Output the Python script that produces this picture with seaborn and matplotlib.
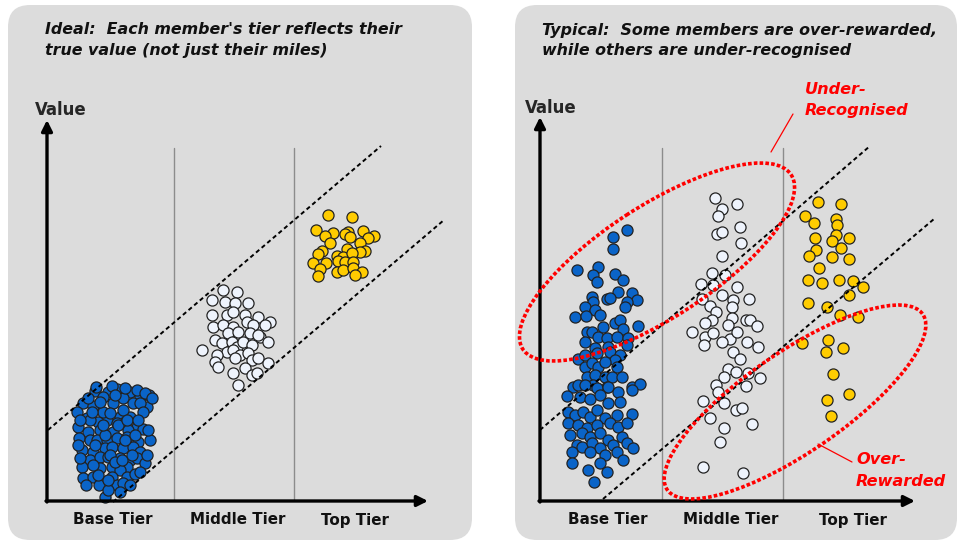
import matplotlib
matplotlib.use("Agg")
import matplotlib.pyplot as plt
from matplotlib.patches import FancyBboxPatch, Ellipse
import seaborn as sns
import pandas as pd

sns.set_theme(style="white")
plt.rcParams["font.family"] = ["DejaVu Sans"]

# ---------------------------------------------------------------
# Member positions (canvas units: x = tier spread, y = value, top-down)
# ---------------------------------------------------------------
# Ideal panel
ideal_base = [
    (95, 391), (108, 392), (117, 389), (130, 392), (140, 397), (149, 395), (147, 407),
    (83, 403), (77, 412), (103, 397), (123, 398), (113, 403), (93, 406), (133, 403),
    (87, 418), (107, 420), (120, 417), (130, 417), (98, 422), (78, 427), (88, 432),
    (100, 430), (113, 432), (123, 423), (137, 427), (143, 429), (128, 430), (79, 438),
    (90, 440), (97, 440), (107, 440), (117, 438), (127, 437), (138, 442), (82, 450),
    (93, 452), (105, 448), (112, 447), (123, 448), (133, 447), (140, 452), (90, 460),
    (100, 457), (108, 457), (120, 458), (130, 460), (137, 458), (145, 463), (82, 467),
    (100, 468), (112, 467), (127, 467), (120, 470), (83, 478), (93, 477), (112, 477),
    (127, 477), (135, 474), (99, 485), (117, 485), (123, 483), (105, 497),
    (90, 420), (117, 423), (103, 412), (123, 410), (140, 403), (110, 413),
    (96, 387), (112, 386), (125, 388), (137, 390), (145, 393), (152, 398), (88, 398),
    (80, 420), (78, 445), (80, 458), (86, 485), (108, 490), (120, 492),
    (130, 485), (140, 472), (147, 455), (150, 440), (118, 425), (105, 435),
    (125, 440), (95, 445), (110, 455), (115, 462), (98, 475), (108, 480), (122, 460),
    (135, 435), (132, 455), (103, 425), (93, 465), (127, 420), (115, 395), (92, 412),
    (143, 412), (138, 420), (100, 402), (148, 430),
]
ideal_middle = [
    (223, 290), (237, 292), (212, 300), (225, 302), (235, 303), (248, 303), (212, 315),
    (227, 315), (233, 312), (245, 315), (258, 317), (270, 322), (213, 327), (223, 325),
    (233, 327), (247, 322), (253, 325), (265, 325), (228, 333), (238, 332), (250, 333),
    (260, 337), (215, 340), (222, 343), (232, 342), (237, 347), (243, 342), (252, 345),
    (268, 342), (202, 350), (227, 352), (233, 350), (240, 355), (248, 353), (217, 355),
    (215, 362), (218, 367), (235, 358), (252, 360), (258, 358), (268, 363), (245, 368),
    (233, 373), (252, 375), (257, 373), (238, 385), (258, 335),
]
ideal_top = [
    (328, 215), (352, 217), (316, 230), (333, 233), (325, 236), (348, 232), (345, 234),
    (363, 231), (374, 236), (368, 238), (350, 237), (330, 243), (360, 243), (347, 249),
    (322, 251), (318, 254), (365, 251), (360, 252), (337, 256), (343, 257), (352, 253),
    (313, 263), (326, 263), (338, 261), (345, 262), (353, 262), (320, 269), (337, 272),
    (343, 270), (353, 268), (362, 272), (318, 276), (355, 275),
]

# Typical panel
typical_base = [
    (627, 230), (613, 237), (613, 249), (577, 270), (598, 267), (593, 275), (597, 282),
    (615, 274), (623, 280), (618, 292), (632, 293), (637, 300), (627, 302), (625, 307),
    (592, 297), (593, 302), (607, 299), (610, 298), (585, 307), (595, 310), (600, 315),
    (575, 317), (586, 316), (615, 323), (620, 320), (638, 326), (603, 327), (623, 329),
    (587, 332), (585, 342), (592, 332), (598, 337), (607, 338), (617, 337), (628, 338),
    (627, 345), (608, 347), (595, 348), (578, 359), (585, 355), (597, 353), (610, 352),
    (620, 355), (615, 360), (585, 367), (592, 363), (598, 367), (605, 362), (617, 367),
    (587, 377), (595, 375), (605, 377), (612, 377), (622, 377), (573, 387), (578, 385),
    (593, 385), (607, 387), (632, 387), (640, 384),
    (585, 385), (597, 388), (608, 387), (618, 392), (632, 390), (567, 396), (580, 397),
    (590, 399), (600, 395), (608, 403), (620, 402), (568, 412), (575, 415), (583, 412),
    (590, 417), (597, 410), (605, 418), (617, 415), (632, 414), (568, 423), (578, 425),
    (587, 428), (597, 425), (610, 423), (618, 427), (627, 423), (570, 435), (582, 433),
    (590, 437), (600, 433), (608, 440), (622, 437), (577, 445), (582, 447), (592, 443),
    (600, 448), (613, 445), (627, 443), (633, 448), (572, 452), (590, 452), (605, 455),
    (617, 452), (623, 460), (572, 463), (600, 463), (588, 470), (607, 472), (594, 482),
]
typical_middle = [
    (715, 198), (737, 204), (722, 209), (718, 216), (740, 227), (717, 234), (722, 232),
    (741, 243), (722, 256), (712, 273), (725, 275), (701, 284), (713, 285), (737, 287),
    (722, 295), (702, 299), (733, 300), (749, 299), (710, 306), (732, 307), (716, 312),
    (712, 320), (732, 318), (746, 320), (705, 323), (728, 325), (750, 320), (757, 326),
    (692, 332), (705, 337), (713, 333), (730, 339), (737, 332), (722, 342), (704, 345),
    (747, 342), (758, 347), (733, 352), (740, 359), (728, 369), (736, 372), (748, 373),
    (724, 377), (760, 378), (716, 385), (746, 386), (718, 392), (703, 401), (724, 403),
    (736, 410), (742, 408), (710, 418), (752, 424), (724, 428), (720, 442), (703, 467),
    (743, 473),
]
typical_top = [
    (818, 202), (841, 204), (805, 216), (814, 223), (836, 219), (837, 225), (815, 238),
    (836, 235), (832, 241), (849, 238), (841, 248), (816, 250), (809, 256), (832, 257),
    (849, 259), (819, 268), (808, 280), (822, 283), (839, 280), (853, 281), (863, 287),
    (849, 295), (808, 303), (827, 307), (840, 315), (858, 317), (802, 343), (828, 340),
    (826, 352), (843, 348), (833, 374), (849, 394), (827, 400), (831, 416),
]

tier_labels = ["Base Tier", "Middle Tier", "Top Tier"]
tier_label_x_ideal = [113, 238, 355]
tier_label_x_typical = [608, 731, 853]

BLUE = "#0a64c8"
WHITE = "#eef3fc"
GOLD = "#ffcc00"
PANEL = "#dcdcdc"

fig = plt.figure(figsize=(9.58, 5.44), dpi=100)
ax = fig.add_axes([0, 0, 1, 1])
ax.set_xlim(0, 958)
ax.set_ylim(544, 0)
ax.axis("off")

# panel backgrounds
for x0, x1 in [(8, 472), (515, 957)]:
    ax.add_patch(FancyBboxPatch((x0 + 22, 5 + 22), x1 - x0 - 44, 535 - 44,
                                boxstyle="round,pad=22", fc=PANEL, ec="none", zorder=0))


def draw_panel(ox, base, middle, top, dividers, upper, lower, ytip, xtip, label_x):
    # scatter clouds
    for pts, col in [(base, BLUE), (middle, WHITE), (top, GOLD)]:
        df = pd.DataFrame(pts, columns=["tier", "value"])
        sns.scatterplot(data=df, x="tier", y="value", ax=ax, color=col, s=64,
                        edgecolor="#222222", linewidth=0.9, zorder=3, legend=False)
    # tier dividers
    for dx in dividers:
        ax.plot([dx, dx], [148, 500], color="#8c8c8c", lw=1.0, zorder=1)
    # diagonal guide lines
    for (x0, y0), (x1, y1) in (upper, lower):
        ax.plot([x0, x1], [y0, y1], ls=(0, (2.2, 1.6)), color="black", lw=1.4, zorder=4)
    # axes with arrows
    ax.annotate("", xy=(ox, ytip), xytext=(ox, 502),
                arrowprops=dict(arrowstyle="-|>", lw=2.4, color="black",
                                mutation_scale=16, shrinkA=0, shrinkB=0), zorder=5)
    ax.annotate("", xy=(xtip, 501), xytext=(ox - 1, 501),
                arrowprops=dict(arrowstyle="-|>", lw=2.4, color="black",
                                mutation_scale=16, shrinkA=0, shrinkB=0), zorder=5)
    for lbl, lx in zip(tier_labels, label_x):
        ax.text(lx, 520, lbl, ha="center", va="center", fontsize=10.9,
                fontweight="bold", color="#111111")


draw_panel(47, ideal_base, ideal_middle, ideal_top, [174, 294],
           ((48, 430), (381, 146)), ((113, 502), (444, 220)),
           120, 428, tier_label_x_ideal)
draw_panel(540, typical_base, typical_middle, typical_top, [662, 783],
           ((540, 430), (870, 146)), ((603, 499), (934, 219)),
           117, 915, tier_label_x_typical)

# titles
title_kw = dict(fontsize=11.4, fontweight="bold", fontstyle="italic", color="#111111",
                va="center", ha="left")
ax.text(45, 30, "Ideal:  Each member's tier reflects their", **title_kw)
ax.text(45, 51, "true value (not just their miles)", **title_kw)
ax.text(542, 30, "Typical:  Some members are over-rewarded,", **title_kw)
ax.text(542, 51, "while others are under-recognised", **title_kw)

ax.text(35, 110, "Value", fontsize=11.9, fontweight="bold", va="center", ha="left")
ax.text(525, 108, "Value", fontsize=11.9, fontweight="bold", va="center", ha="left")

# highlighted groups
RED = "#ff0000"
ax.add_patch(Ellipse((657, 262), 320, 112, angle=-33, fill=False, ec=RED,
                     lw=2.6, ls=(0, (1, 0.6)), zorder=6))
ax.add_patch(Ellipse((795, 402), 310, 100, angle=-34.5, fill=False, ec=RED,
                     lw=2.6, ls=(0, (1, 0.6)), zorder=6))

ann_kw = dict(fontsize=11.6, fontweight="bold", fontstyle="italic", color=RED,
              va="center", ha="left")
ax.text(805, 90, "Under-", **ann_kw)
ax.text(805, 110, "Recognised", **ann_kw)
ax.plot([771, 793], [152, 114], color=RED, lw=0.9, zorder=6)
ax.text(856, 459, "Over-", **ann_kw)
ax.text(856, 481, "Rewarded", **ann_kw)
ax.plot([818, 852], [444, 462], color=RED, lw=0.9, zorder=6)

fig.savefig("out.png", dpi=100, facecolor="white")
